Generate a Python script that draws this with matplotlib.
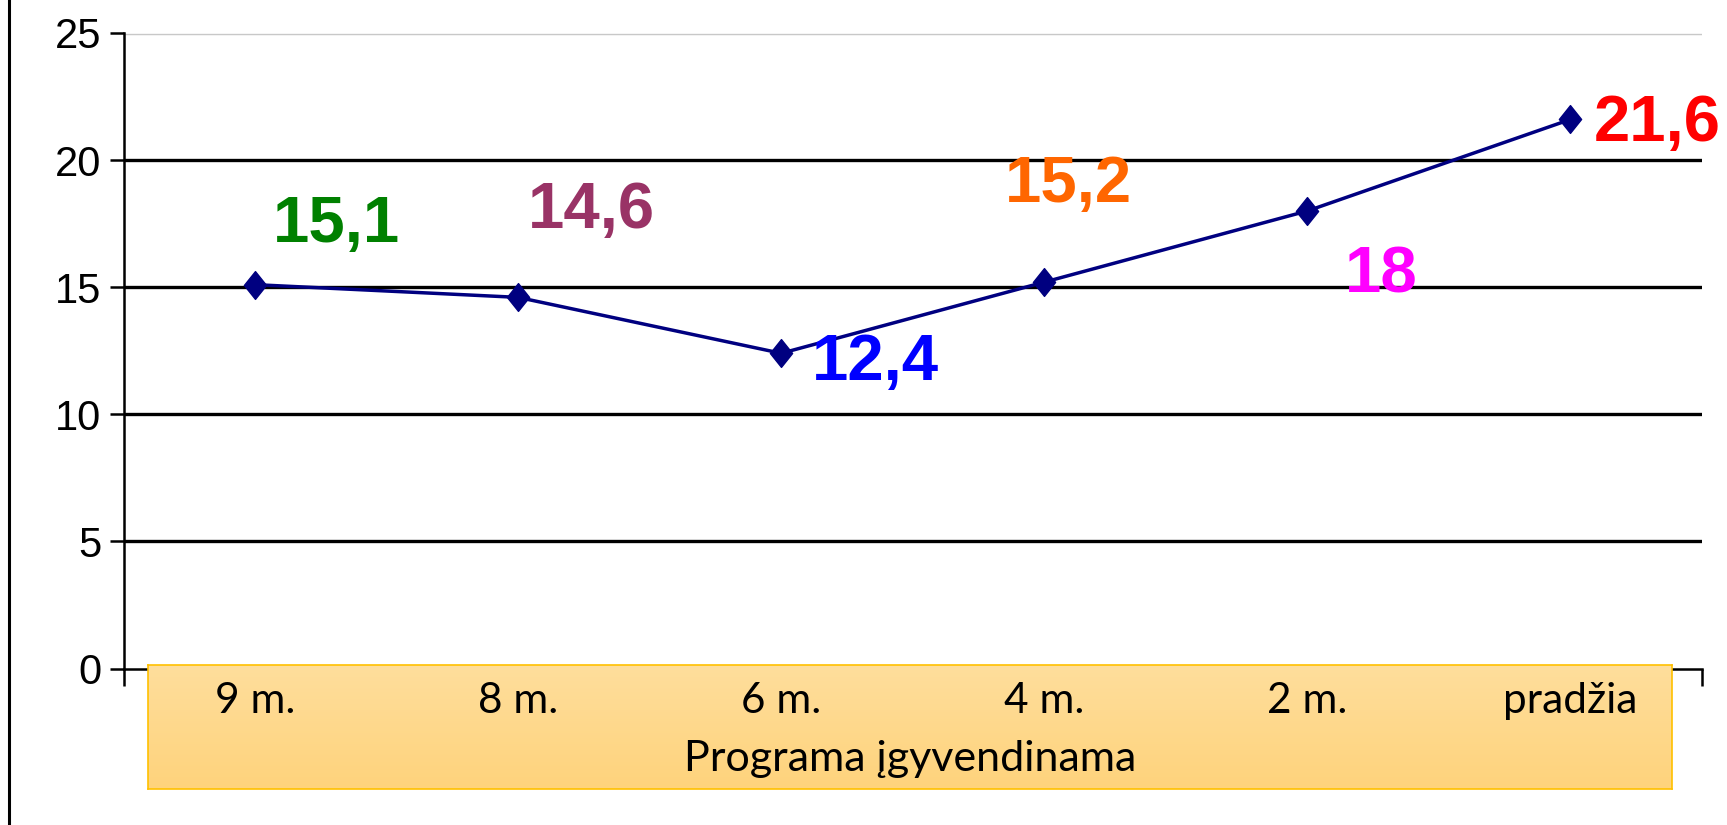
import matplotlib
matplotlib.use('Agg')
import matplotlib.pyplot as plt
import matplotlib.transforms as mtransforms
from matplotlib.lines import Line2D
from matplotlib.path import Path
import numpy as np

# data
categories = ['9 m.', '8 m.', '6 m.', '4 m.', '2 m.', 'pradžia']
values = [15.1, 14.6, 12.4, 15.2, 18.0, 21.6]
value_labels = ['15,1', '14,6', '12,4', '15,2', '18', '21,6']
label_colors = ['#008000', '#993366', '#0000FF', '#FF6600', '#FF00FF', '#FF0000']
# label placement relative to each point (x in categories, y in data units)
label_dx = [0.31, 0.28, 0.36, 0.09, 0.28, 0.33]
label_dy = [1.67, 2.73, -1.05, 3.17, -3.19, -0.85]
x_title = 'Programa įgyvendinama'

W, H = 1727, 825
fig = plt.figure(figsize=(W / 100, H / 100), dpi=100)
narrow = ['Liberation Sans Narrow', 'Liberation Sans', 'DejaVu Sans']
side_font = ['Lato', 'DejaVu Sans']

ax = fig.add_axes([123.5 / W, 1 - 668.5 / H, (1702 - 123.5) / W, (668.5 - 33) / H])
ax.set_facecolor('none')
x = np.arange(len(categories))

ax.set_xlim(-0.5, len(categories) - 0.5)
ax.set_ylim(0, 25)
ax.set_yticks(range(0, 26, 5))
ax.set_yticklabels([str(v) for v in range(0, 26, 5)], family=narrow, fontsize=30)
ax.set_xticks(np.arange(-0.5, len(categories), 1))
ax.set_xticklabels([])
ax.tick_params(axis='y', length=10, width=1.8, pad=6)
ax.tick_params(axis='x', length=12, width=1.8)
for s in ['top', 'right']:
    ax.spines[s].set_visible(False)
for s in ['left', 'bottom']:
    ax.spines[s].set_linewidth(1.8)

for gy in [5, 10, 15, 20]:
    ax.axhline(gy, color='black', lw=2.4, zorder=1)
ax.axhline(25, color='#c8c8c8', lw=3.2, zorder=1)
ax.axhline(25, color='white', lw=1.2, zorder=1)

diamond = Path([(0, 1), (0.8, 0), (0, -1), (-0.8, 0), (0, 1)],
               [Path.MOVETO, Path.LINETO, Path.LINETO, Path.LINETO, Path.CLOSEPOLY])
ax.plot(x, values, color='#000080', lw=2.5, marker=diamond, markersize=20,
        markerfacecolor='#000080', markeredgecolor='#000080', zorder=3)

for i, (lab, col) in enumerate(zip(value_labels, label_colors)):
    ax.text(x[i] + label_dx[i], values[i] + label_dy[i], lab, color=col,
            fontsize=47, fontweight='bold', family=narrow,
            ha='center', va='baseline', zorder=4, clip_on=False)

# orange category band
box = fig.add_axes([148 / W, 1 - 789 / H, (1672 - 148) / W, (789 - 665) / H], zorder=5)
grad = np.linspace(0, 1, 100)[:, None]
top_c = np.array([255, 222, 156]) / 255
bot_c = np.array([254, 211, 124]) / 255
img = top_c[None, None, :] * (1 - grad[:, :, None]) + bot_c[None, None, :] * grad[:, :, None]
box.imshow(img, aspect='auto', extent=[0, 1, 0, 1])
box.set_xticks([])
box.set_yticks([])
for s in box.spines.values():
    s.set_color('#FFC000')
    s.set_linewidth(1.2)

trans = mtransforms.blended_transform_factory(ax.transData, box.transAxes)
for i, c in enumerate(categories):
    box.text(x[i], 0.71, c, transform=trans, ha='center', va='center',
             fontsize=30.5, family=side_font)
box.text(0.5, 0.24, x_title, transform=box.transAxes, ha='center', va='center',
         fontsize=31, family=side_font)
box.set_xlim(0, 1)
box.set_ylim(0, 1)

fig.add_artist(Line2D([8.5 / W, 8.5 / W], [0, 1], color='black', lw=2.2,
                      transform=fig.transFigure))

fig.savefig('out.png', dpi=100)
